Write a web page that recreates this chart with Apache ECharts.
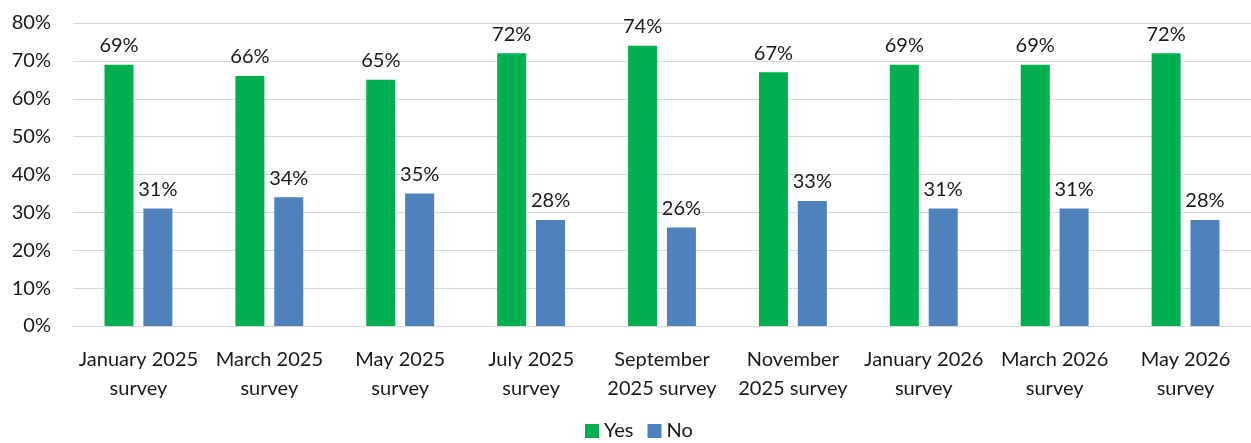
<!DOCTYPE html>
<html>
<head>
<meta charset="utf-8">
<script src="https://cdn.jsdelivr.net/npm/echarts@6/dist/echarts.min.js"></script>
<style>
  html, body { margin: 0; padding: 0; background: #fff; }
  #chart { width: 1251px; height: 443px; }
</style>
</head>
<body>
<div id="chart"></div>
<script>
// Survey waves shown along the x axis
const categories = [
  'January 2025\nsurvey',
  'March 2025\nsurvey',
  'May 2025\nsurvey',
  'July 2025\nsurvey',
  'September\n2025 survey',
  'November\n2025 survey',
  'January 2026\nsurvey',
  'March 2026\nsurvey',
  'May 2026\nsurvey'
];

// Share of respondents (%) per answer
const yesValues = [69, 66, 65, 72, 74, 67, 69, 69, 72];
const noValues = [31, 34, 35, 28, 26, 33, 31, 31, 28];

// Y axis range (%)
const yMin = 0;
const yMax = 80;
const yStep = 10;

const FONT = 'Lato';
const TEXT = '#1a1a1a';
const SIZE = 20;

const chart = echarts.init(document.getElementById('chart'), null, { renderer: 'canvas' });

const labelStyle = {
  show: true,
  position: 'top',
  distance: 9,
  formatter: p => p.value + '%',
  color: TEXT,
  fontFamily: FONT,
  fontSize: SIZE
};

chart.setOption({
  animation: false,
  textStyle: { fontFamily: FONT },
  grid: { left: 73, right: -1, top: 23, bottom: 117, containLabel: false },
  legend: {
    data: ['Yes', 'No'],
    bottom: -3,
    left: 580,
    itemWidth: 14,
    itemHeight: 14,
    itemGap: 14,
    icon: 'rect',
    textStyle: { color: TEXT, fontFamily: FONT, fontSize: SIZE }
  },
  xAxis: {
    type: 'category',
    data: categories,
    axisLine: { show: true, lineStyle: { color: '#d9d9d9', width: 1 } },
    axisTick: { show: false },
    axisLabel: {
      color: TEXT,
      fontFamily: FONT,
      fontSize: SIZE,
      lineHeight: 29,
      margin: 19,
      interval: 0
    }
  },
  yAxis: {
    type: 'value',
    min: yMin,
    max: yMax,
    interval: yStep,
    axisLine: { show: false },
    axisTick: { show: false },
    splitLine: { lineStyle: { color: '#d9d9d9', width: 1 } },
    axisLabel: {
      formatter: v => v + '%',
      color: TEXT,
      fontFamily: FONT,
      fontSize: SIZE,
      margin: 22
    }
  },
  series: [
    {
      name: 'Yes',
      type: 'bar',
      data: yesValues,
      barWidth: 29,
      barGap: '34%',
      itemStyle: { color: '#00B050' },
      label: labelStyle
    },
    {
      name: 'No',
      type: 'bar',
      data: noValues,
      barWidth: 29,
      itemStyle: { color: '#4F81BD' },
      label: labelStyle
    }
  ]
});
</script>
</body>
</html>
